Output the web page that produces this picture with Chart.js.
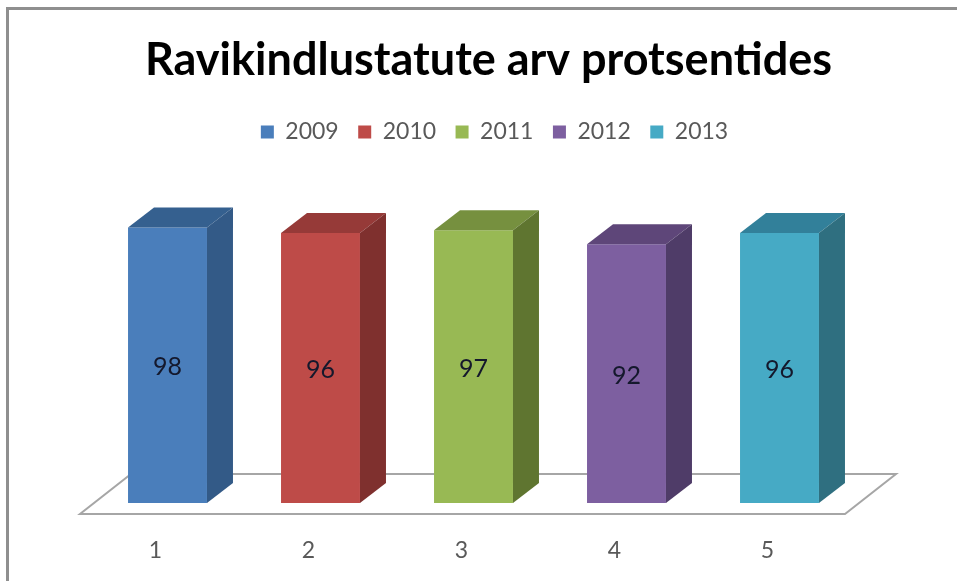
<!DOCTYPE html>
<html>
<head>
<meta charset="utf-8">
<title>Ravikindlustatute arv protsentides</title>
<script src="https://cdn.jsdelivr.net/npm/chart.js@4"></script>
<style>
    html, body { margin: 0; padding: 0; background: #fff; overflow: hidden; }
    #wrap { position: relative; width: 957px; height: 581px; }
    #frame { position: absolute; left: 6px; top: 7px; right: 0; bottom: 0; border-left: 3px solid #8f8f8f; border-top: 3px solid #8f8f8f; pointer-events: none; }
</style>
</head>
<body>
<div id="wrap">
    <canvas id="chart" width="957" height="581"></canvas>
    <div id="frame"></div>
</div>
<script>
    const titleText = 'Ravikindlustatute arv protsentides';
    const categories = ['1', '2', '3', '4', '5'];
    const seriesNames = ['2009', '2010', '2011', '2012', '2013'];
    const seriesValues = [98, 96, 97, 92, 96];
    const frontColors = ['#4a7ebb', '#be4b48', '#98b954', '#7d5fa0', '#46aac5'];
    const topColors = ['#35608f', '#963a38', '#76903f', '#5e4679', '#32809a'];
    const sideColors = ['#335a87', '#7f302e', '#5f7530', '#4f3c68', '#2f6f80'];

    const depthX = 26;
    const depthY = 20;

    // Floor under the bars, built from the x scale and the zero line
    const floorPlugin = {
        id: 'floor',
        beforeDatasetsDraw(chart) {
            const { ctx, scales } = chart;
            const base = scales.y.getPixelForValue(0);
            const left = scales.x.left - 11;
            const right = scales.x.right - 11;
            ctx.save();
            ctx.beginPath();
            ctx.moveTo(left, base + 11);
            ctx.lineTo(right, base + 11);
            ctx.lineTo(right + 51, base - 29);
            ctx.lineTo(left + 51, base - 29);
            ctx.closePath();
            ctx.fillStyle = '#ffffff';
            ctx.fill();
            ctx.strokeStyle = '#a6a6a6';
            ctx.lineWidth = 2;
            ctx.stroke();
            ctx.restore();
        }
    };

    // Top and side faces of each bar plus the value in the middle of the front
    const barFacesPlugin = {
        id: 'barFaces',
        afterDatasetsDraw(chart) {
            const ctx = chart.ctx;
            chart.data.datasets.forEach((dataset, i) => {
                const bar = chart.getDatasetMeta(i).data[i];
                const left = bar.x - bar.width / 2;
                const right = bar.x + bar.width / 2;

                ctx.fillStyle = topColors[i];
                ctx.beginPath();
                ctx.moveTo(left, bar.y);
                ctx.lineTo(right, bar.y);
                ctx.lineTo(right + depthX, bar.y - depthY);
                ctx.lineTo(left + depthX, bar.y - depthY);
                ctx.closePath();
                ctx.fill();

                ctx.fillStyle = sideColors[i];
                ctx.beginPath();
                ctx.moveTo(right, bar.y);
                ctx.lineTo(right + depthX, bar.y - depthY);
                ctx.lineTo(right + depthX, bar.base - depthY);
                ctx.lineTo(right, bar.base);
                ctx.closePath();
                ctx.fill();

                ctx.fillStyle = '#14182c';
                ctx.font = '25px Lato';
                ctx.textAlign = 'center';
                ctx.textBaseline = 'middle';
                ctx.fillText(String(seriesValues[i]), bar.x, (bar.y + bar.base) / 2 + 2);
            });
        }
    };

    // Legend sits a little right of the title in the reference
    const legendShiftPlugin = {
        id: 'legendShift',
        afterLayout(chart) {
            chart.legend.left += 12;
        }
    };

    new Chart(document.getElementById('chart'), {
        type: 'bar',
        data: {
            labels: categories,
            datasets: seriesNames.map((name, i) => ({
                label: name,
                data: categories.map((c, j) => (j === i ? seriesValues[i] : null)),
                backgroundColor: frontColors[i],
                borderWidth: 0,
                categoryPercentage: 1,
                barPercentage: 0.516
            }))
        },
        options: {
            responsive: false,
            animation: false,
            layout: { padding: { left: 20, top: 8 } },
            plugins: {
                title: {
                    display: true,
                    text: titleText,
                    color: '#000000',
                    font: { family: 'Lato', size: 45, weight: 'bold' },
                    padding: { top: 25, bottom: 14 }
                },
                legend: {
                    display: true,
                    position: 'top',
                    labels: {
                        boxWidth: 13,
                        boxHeight: 13,
                        padding: 19.5,
                        color: '#595959',
                        font: { family: 'Lato', size: 23 }
                    }
                },
                tooltip: { enabled: false }
            },
            scales: {
                x: {
                    stacked: true,
                    grid: { display: false, drawTicks: false },
                    border: { display: false },
                    ticks: {
                        padding: 34,
                        labelOffset: -12,
                        color: '#595959',
                        font: { family: 'Lato', size: 23 }
                    },
                    afterFit(scale) { scale.height = 78; }
                },
                y: {
                    stacked: true,
                    min: 0,
                    max: 124.3,
                    grid: { display: false },
                    border: { display: false },
                    ticks: { display: false },
                    afterFit(scale) { scale.width = 71; }
                },
                rightGap: {
                    position: 'right',
                    grid: { display: false },
                    border: { display: false },
                    ticks: { display: false },
                    afterFit(scale) { scale.width = 101; }
                }
            }
        },
        plugins: [floorPlugin, barFacesPlugin, legendShiftPlugin]
    });
</script>
</body>
</html>
